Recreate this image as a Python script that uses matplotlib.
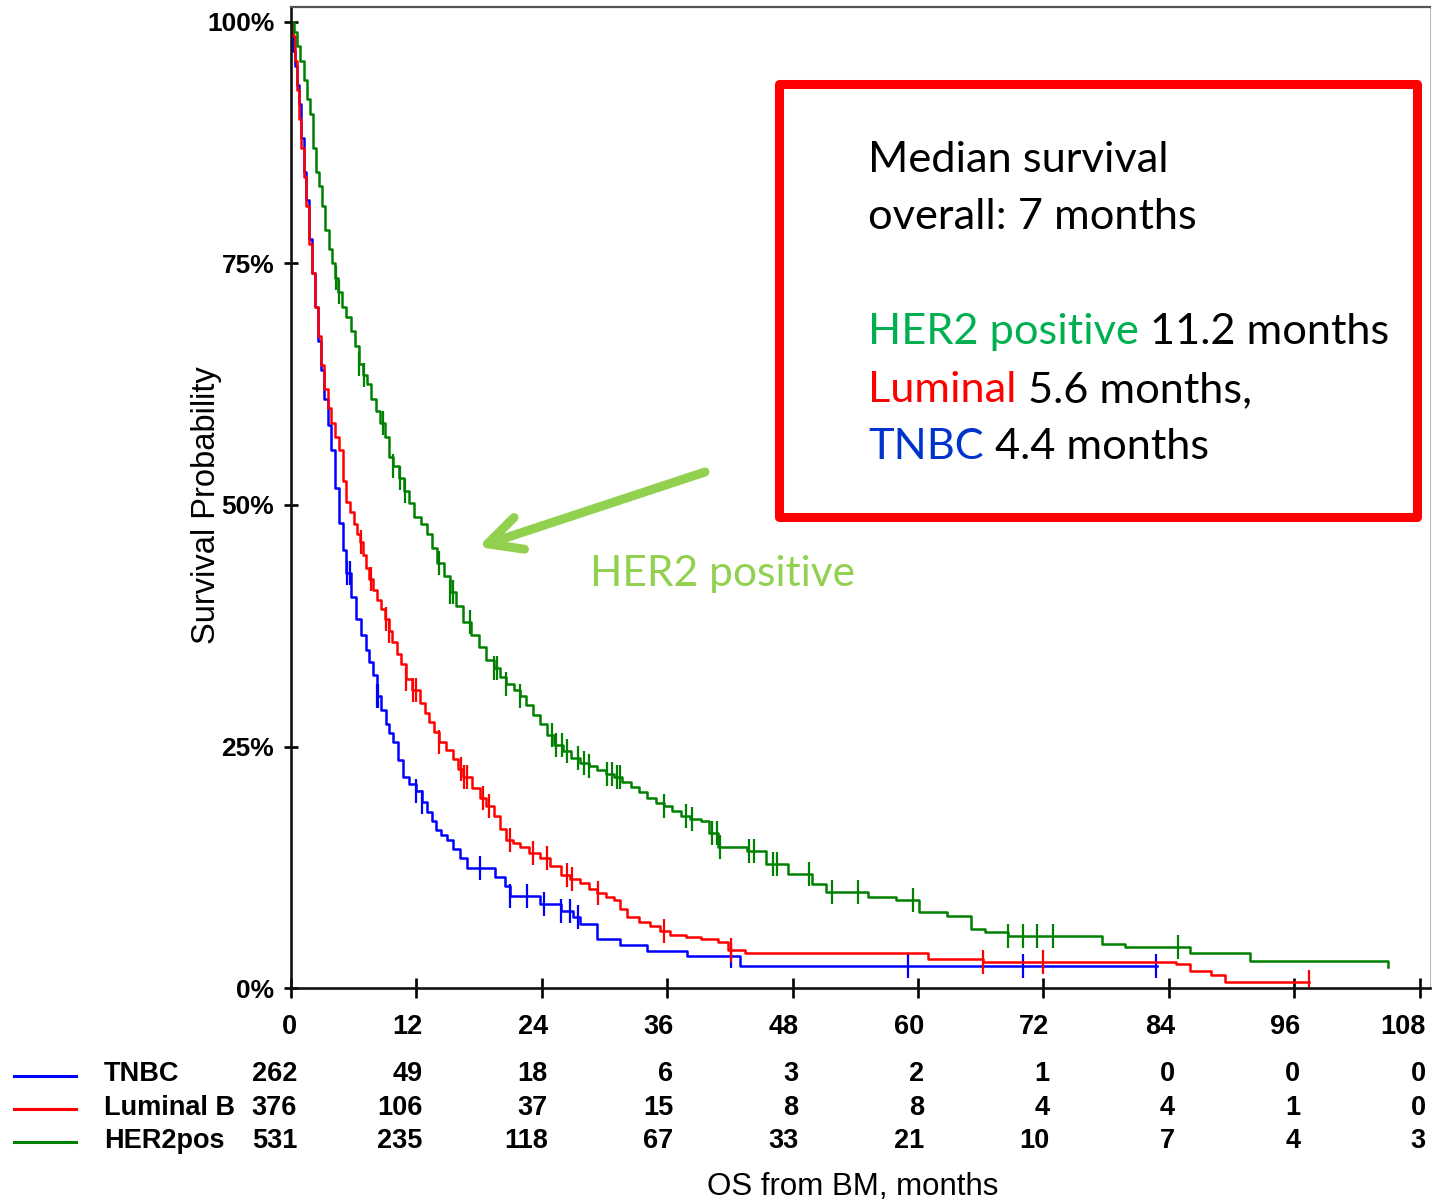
import numpy as np
import matplotlib
matplotlib.use("Agg")
import matplotlib.pyplot as plt
from matplotlib.patches import FancyArrowPatch, Rectangle
from matplotlib.transforms import ScaledTranslation, blended_transform_factory

W, H = 1432, 1202

month_ticks = [0, 12, 24, 36, 48, 60, 72, 84, 96, 108]
pct_ticks = [0, 25, 50, 75, 100]

# Kaplan-Meier steps (months, survival %)
tnbc_t = [0, 0.2, 0.4, 0.6, 0.8, 1.0, 1.2, 1.4, 1.7, 2.0, 2.3, 2.6, 2.9, 3.2, 3.5, 3.8,
          4.2, 4.6, 5.0, 5.3, 5.7, 6.2, 6.7, 7.2, 7.5, 7.8, 8.2, 8.6, 9.1, 9.4, 9.8, 10.2,
          10.7, 11.3, 12.0, 12.5, 13.0, 13.5, 13.9, 14.4, 14.9, 15.5, 16.2, 16.8, 19.5,
          20.5, 21.0, 23.8, 25.8, 27.0, 27.7, 29.3, 31.5, 34.1, 37.9, 43.0, 82.9]
tnbc_s = [100, 97, 95.4, 93.5, 91.5, 88, 84.5, 81.6, 77.5, 74, 70.5, 67, 64, 61, 58.3,
          55.7, 51.8, 48.1, 45.3, 43.0, 40.5, 38.2, 36.5, 35.0, 33.7, 32.4, 30.2, 28.8,
          27.3, 26.4, 25.5, 23.6, 21.8, 21.1, 20.4, 19.3, 18.2, 17.3, 16.4, 15.8, 15.3,
          14.4, 13.5, 12.4, 11.5, 10.6, 9.5, 8.7, 8.0, 7.3, 6.6, 5.1, 4.4, 3.8, 3.3, 2.3,
          2.3]
tnbc_cens = [5.4, 5.6, 8.2, 8.3, 12.0, 12.5, 18.1, 21.0, 22.6, 24.2, 25.8, 26.7, 27.5,
             42.1, 59.0, 70.0, 82.8]

lum_t = [0, 0.2, 0.4, 0.6, 0.8, 1.0, 1.2, 1.4, 1.7, 2.0, 2.3, 2.6, 2.9, 3.2, 3.5, 3.8,
         4.2, 4.6, 5.0, 5.3, 5.6, 6.0, 6.3, 6.6, 6.9, 7.2, 7.5, 7.8, 8.2, 8.6, 9.0, 9.4,
         9.7, 10.1, 10.5, 11.0, 11.6, 12.3, 12.8, 13.2, 13.7, 14.2, 14.8, 15.5, 16.0,
         16.5, 17.3, 18.1, 18.7, 19.4, 20.0, 20.6, 21.2, 21.9, 22.8, 23.8, 24.8, 25.8,
         26.7, 27.7, 28.5, 29.3, 30.1, 30.9, 31.5, 32.2, 33.3, 34.4, 35.3, 36.3, 37.8,
         39.2, 40.9, 41.8, 43.4, 61.0, 66.2, 84.7, 86.0, 88.0, 89.4, 97.4]
lum_s = [100, 98.5, 96, 93, 90, 87, 84, 81, 77, 74, 70.5, 67.5, 64.5, 62, 60, 58.5, 57,
         55.7, 52.5, 50.3, 49.3, 48, 47, 46.2, 44.8, 43.5, 42.3, 41.2, 40.2, 39.2, 38.2,
         37, 35.8, 34.6, 33.5, 32.0, 30.8, 29.5, 28.5, 27.5, 26.5, 25.5, 24.6, 23.7, 22.7,
         21.8, 20.7, 19.7, 18.8, 17.8, 16.5, 15.3, 15.0, 14.6, 14.0, 13.5, 12.6, 11.7,
         11.3, 10.9, 10.3, 9.8, 9.4, 9.1, 8.2, 7.3, 6.8, 6.4, 5.9, 5.5, 5.3, 5.1, 4.8,
         3.9, 3.6, 3.0, 2.7, 2.5, 1.8, 1.3, 0.6, 0.6]
lum_cens = [6.7, 7.7, 9.1, 9.4, 11.0, 11.7, 12.0, 14.2, 16.3, 16.6, 16.8, 18.4, 18.9,
            21.0, 23.2, 24.5, 26.4, 26.9, 29.4, 35.7, 42.1, 66.2, 72.0, 97.4]

her2_t = [0, 0.3, 0.6, 0.9, 1.2, 1.5, 1.8, 2.1, 2.4, 2.7, 3.0, 3.3, 3.6, 3.9, 4.2, 4.5,
          4.9, 5.3, 5.7, 6.1, 6.5, 6.9, 7.3, 7.7, 8.1, 8.5, 9.0, 9.4, 9.8, 10.3, 10.8,
          11.3, 11.8, 12.4, 13.0, 13.5, 14.0, 14.6, 15.2, 15.8, 16.5, 17.2, 18.0, 18.7,
          19.4, 20.0, 20.6, 21.3, 21.9, 22.5, 23.2, 23.8, 24.5, 25.2, 26.0, 26.8, 27.7,
          28.5, 29.3, 30.1, 30.9, 31.7, 32.5, 33.3, 34.1, 34.9, 35.7, 36.5, 37.3, 38.2,
          39.2, 40.0, 40.9, 43.6, 45.5, 47.6, 49.9, 51.2, 55.2, 57.9, 60.1, 62.8, 65.1,
          66.4, 68.6, 77.6, 79.8, 86.0, 91.8, 105.0]
her2_s = [100, 99, 97.5, 96, 94, 92, 90.5, 87, 84.5, 83, 81, 78.5, 76.5, 75, 73.5, 72,
          70.5, 69.5, 68, 66.5, 64.6, 63.5, 62.5, 61, 59.7, 58.5, 57, 55, 54, 52.8, 51.5,
          50.2, 48.8, 48, 47, 45.5, 44, 42.6, 41, 39.5, 37.9, 36.5, 35.3, 34, 33.1, 32.2,
          31.5, 30.8, 30.2, 29.3, 28.3, 27.3, 26.2, 25.2, 24.5, 23.8, 23.3, 23, 22.6, 22.2,
          21.8, 21.3, 20.8, 20.3, 19.7, 19.2, 18.8, 18.3, 17.8, 17.5, 17.3, 16, 14.6, 14.2,
          12.8, 11.8, 10.8, 9.9, 9.4, 9.1, 7.9, 7.5, 6.1, 5.8, 5.4, 4.6, 4.2, 3.6, 2.8,
          2.2]
her2_cens = [4.3, 4.6, 6.5, 7.0, 8.8, 9.8, 10.4, 10.9, 14.2, 15.2, 15.5, 17.1, 19.4,
             19.7, 20.6, 21.9, 25.0, 25.4, 25.9, 26.4, 27.5, 28.0, 28.5, 30.2, 30.7,
             31.2, 31.5, 35.7, 37.8, 38.4, 40.3, 40.8, 41.1, 43.8, 44.3, 46.1, 46.5,
             49.6, 51.8, 54.3, 59.5, 68.6, 70.0, 71.4, 72.9, 84.9]

group_names = ["TNBC", "Luminal B", "HER2pos"]
group_colors = ["#0000ff", "#ff0000", "#008000"]
tnbc_risk = [262, 49, 18, 6, 3, 2, 1, 0, 0, 0]
lum_risk = [376, 106, 37, 15, 8, 8, 4, 4, 1, 0]
her2_risk = [531, 235, 118, 67, 33, 21, 10, 7, 4, 3]

box_lines = [
    [("Median survival", "black")],
    [("overall: 7 months", "black")],
    [("HER2 positive", "#00b050"), ("11.2 months", "black")],
    [("Luminal", "#ff0000"), ("5.6 months,", "black")],
    [("TNBC", "#0033cc"), ("4.4 months", "black")],
]


def fx(px):
    return px / W


def fy(py):
    return 1 - py / H


def step_value(t, s, x):
    idx = np.searchsorted(np.asarray(t), np.asarray(x), side="right") - 1
    return np.asarray(s)[idx]


fig = plt.figure(figsize=(W / 100, H / 100), dpi=100)
ax = fig.add_axes([fx(291), fy(988), fx(1430) - fx(291), fy(7) - fy(988)])
ax.set_xlim(0, (1430 - 291) / 10.45)
ax.set_ylim(0, (988 - 7) / 9.66)

curves = [(tnbc_t, tnbc_s, tnbc_cens), (lum_t, lum_s, lum_cens), (her2_t, her2_s, her2_cens)]
for (t, s, cens), color in zip(curves, group_colors):
    ax.step(t, s, where="post", color=color, lw=1.8)
    ax.plot(cens, step_value(t, s, cens), ls="none", marker="|", ms=17, mew=1.6, color=color)

for side in ["left", "bottom"]:
    ax.spines[side].set_linewidth(1.9)
    ax.spines[side].set_color("#111111")
ax.spines["top"].set_linewidth(1.6)
ax.spines["top"].set_color("#555555")
ax.spines["right"].set_linewidth(0.8)
ax.spines["right"].set_color("#bbbbbb")

tick_font = dict(family=["Liberation Sans", "DejaVu Sans"], weight="bold")
ax.set_yticks(pct_ticks, labels=[f"{v}%" for v in pct_ticks], fontsize=19, **tick_font)
ax.tick_params(axis="y", direction="inout", length=10, width=1.9, pad=7)
ax.set_xticks(month_ticks, labels=[str(m) for m in month_ticks], fontsize=19.5, **tick_font)
ax.tick_params(axis="x", direction="inout", length=14, width=1.9, pad=12)
shift = ScaledTranslation(6 / 100, 0, fig.dpi_scale_trans)
for label in ax.get_xticklabels():
    label.set_ha("right")
    label.set_transform(label.get_transform() + shift)

# number at risk table
mixed = blended_transform_factory(ax.transData, fig.transFigure)
row_base = [1081, 1115, 1148]
line_y = [1076, 1109, 1142]
for name, color, risk, yb, yl in zip(group_names, group_colors,
                                    [tnbc_risk, lum_risk, her2_risk], row_base, line_y):
    fig.add_artist(plt.Line2D([fx(14), fx(76)], [fy(yl), fy(yl)], color=color, lw=2.2))
    fig.text(fx(104), fy(yb), name, fontsize=19.5, va="baseline", ha="left", **tick_font)
    for m, n in zip(month_ticks, risk):
        ax.text(m + 6 / 10.45, fy(yb), str(n), transform=mixed, fontsize=19.5,
                va="baseline", ha="right", **tick_font)

fig.text(fx(853), fy(1187), "OS from BM, months", fontsize=22.5, ha="center", va="center",
         family=["Liberation Sans", "DejaVu Sans"])
fig.text(fx(207), fy(505), "Survival Probability", fontsize=23.5, rotation=90, ha="center",
         va="center", family=["Liberation Sans", "DejaVu Sans"])

# annotation box
fig.add_artist(Rectangle((fx(778.5), fy(516.5)), fx(1416.5) - fx(778.5), fy(84.5) - fy(516.5),
                         transform=fig.transFigure, fill=True, fc="white", ec="#ff0000",
                         lw=6.5, joinstyle="round"))

renderer = fig.canvas.get_renderer()
box_family = ["Lato", "DejaVu Sans"]


def text_width(s, size):
    t = fig.text(0, 0, s, fontsize=size, family=box_family)
    w = t.get_window_extent(renderer).width
    t.remove()
    return w


box_size = 30 * 522 / text_width("HER2 positive 11.2 months", 30)
space_w = text_width("a a", box_size) - text_width("aa", box_size)
box_base = [172, 229, 344, 402, 459]
for segments, yb in zip(box_lines, box_base):
    x = 868
    for s, color in segments:
        fig.text(fx(x), fy(yb), s, fontsize=box_size, family=box_family, color=color,
                 va="baseline", ha="left")
        x += text_width(s, box_size) + space_w

fig.add_artist(FancyArrowPatch(posA=(fx(705), fy(472)), posB=(fx(478), fy(547)),
                               transform=fig.transFigure, arrowstyle="->,head_length=1.0,head_width=0.5",
                               mutation_scale=24, lw=6.5, color="#92d050", shrinkA=0, shrinkB=0,
                               capstyle="round", joinstyle="round"))
fig.text(fx(590), fy(586), "HER2 positive", fontsize=box_size * 0.98, family=box_family,
         color="#92d050", va="baseline", ha="left")

fig.savefig("out.png", dpi=100)
